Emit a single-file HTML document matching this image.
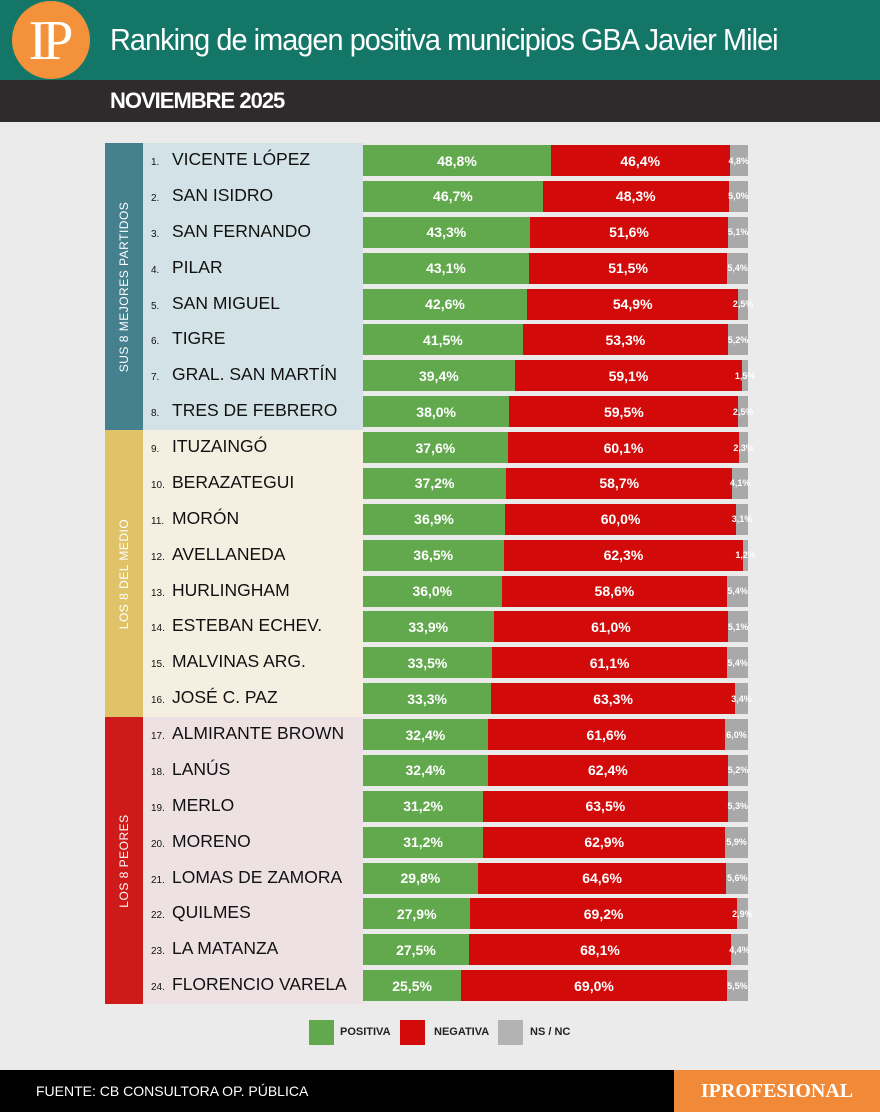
<!DOCTYPE html><html><head><meta charset="utf-8"><style>
*{margin:0;padding:0;box-sizing:border-box}
body{width:880px;height:1112px;background:#ebebeb;font-family:"Liberation Sans",sans-serif;position:relative;overflow:hidden}
.hdr{position:absolute;left:0;top:0;width:880px;height:80px;background:#137667}
.logo{position:absolute;left:12px;top:1px;width:78px;height:78px;border-radius:50%;background:#f3923a;color:#fff;font-family:"Liberation Serif",serif;font-size:56px;line-height:80px;text-align:center;letter-spacing:-5px;text-indent:-5px}
.title{position:absolute;left:110px;top:22px;color:#fff;font-size:31px;letter-spacing:-1px;transform:scaleX(.93);transform-origin:left}
.sub{position:absolute;left:0;top:80px;width:880px;height:42px;background:#2f2b2c}
.sub span{position:absolute;left:110px;top:8px;color:#fff;font-weight:bold;font-size:22px;letter-spacing:-1px}
.side{position:absolute;left:105px;width:38px}
.side span{position:absolute;left:50%;top:50%;transform:translate(-50%,-50%) rotate(-90deg);color:#fff;font-size:12px;white-space:nowrap;letter-spacing:.5px}
.grp{position:absolute;left:143px;width:220px}
.row{position:absolute;left:143px;width:605px;height:36px}
.nm{position:absolute;left:8px;top:6px;font-size:17.5px;color:#111;white-space:nowrap}
.nm small{font-size:10px;display:inline-block;width:21px}
.bar{position:absolute;left:220px;top:2px;width:385px;height:31px;display:flex}
.bar div{height:100%;min-width:0;color:#fff;font-weight:bold;font-size:14px;display:flex;align-items:center;justify-content:center;white-space:nowrap}
.g{background:#62a94e}.r{background:#d20a0a}.n{background:#a9a9a9;font-size:9px!important;overflow:visible}
.leg{position:absolute;top:1020px;height:25px;width:25px}
.lt{position:absolute;top:1026px;font-size:11px;font-weight:bold;color:#222}
.foot{position:absolute;left:0;top:1070px;width:880px;height:42px;background:#000}
.foot span{position:absolute;left:36px;top:13px;color:#fff;font-size:14px}
.fo{position:absolute;left:674px;top:1070px;width:206px;height:42px;background:#f08a38;color:#fff;font-family:"Liberation Serif",serif;font-weight:bold;font-size:20px;text-align:center;line-height:42px}
</style></head><body>
<div class="hdr"><div class="logo">IP</div><div class="title">Ranking de imagen positiva municipios GBA Javier Milei</div></div>
<div class="sub"><span>NOVIEMBRE 2025</span></div>
<div class="side" style="top:143px;height:287px;background:#44808e"><span>SUS 8 MEJORES PARTIDOS</span></div>
<div class="side" style="top:430px;height:287px;background:#e0c368"><span>LOS 8 DEL MEDIO</span></div>
<div class="side" style="top:717px;height:287px;background:#cf1a1a"><span>LOS 8 PEORES</span></div>
<div class="grp" style="top:143px;height:287px;background:#d3e2e6"></div>
<div class="grp" style="top:430px;height:287px;background:#f4efe0"></div>
<div class="grp" style="top:717px;height:287px;background:#eee1e3"></div>
<div id="rows"></div>
<div class="leg" style="left:309px;background:#62a94e"></div><div class="lt" style="left:340px">POSITIVA</div>
<div class="leg" style="left:400px;background:#d20a0a"></div><div class="lt" style="left:434px">NEGATIVA</div>
<div class="leg" style="left:498px;background:#b3b3b3"></div><div class="lt" style="left:530px">NS / NC</div>
<div class="foot"><span>FUENTE: CB CONSULTORA OP. PÚBLICA</span></div>
<div class="fo">IPROFESIONAL</div>
<script>
var d=[["VICENTE LÓPEZ",48.8,46.4,4.8],["SAN ISIDRO",46.7,48.3,5.0],["SAN FERNANDO",43.3,51.6,5.1],["PILAR",43.1,51.5,5.4],["SAN MIGUEL",42.6,54.9,2.5],["TIGRE",41.5,53.3,5.2],["GRAL. SAN MARTÍN",39.4,59.1,1.5],["TRES DE FEBRERO",38.0,59.5,2.5],["ITUZAINGÓ",37.6,60.1,2.3],["BERAZATEGUI",37.2,58.7,4.1],["MORÓN",36.9,60.0,3.1],["AVELLANEDA",36.5,62.3,1.2],["HURLINGHAM",36.0,58.6,5.4],["ESTEBAN ECHEV.",33.9,61.0,5.1],["MALVINAS ARG.",33.5,61.1,5.4],["JOSÉ C. PAZ",33.3,63.3,3.4],["ALMIRANTE BROWN",32.4,61.6,6.0],["LANÚS",32.4,62.4,5.2],["MERLO",31.2,63.5,5.3],["MORENO",31.2,62.9,5.9],["LOMAS DE ZAMORA",29.8,64.6,5.6],["QUILMES",27.9,69.2,2.9],["LA MATANZA",27.5,68.1,4.4],["FLORENCIO VARELA",25.5,69.0,5.5]];
var f=function(x){return x.toFixed(1).replace('.',',')+'%'};var h='';
d.forEach(function(r,i){var t=143+i*35.875;h+='<div class="row" style="top:'+t+'px"><div class="nm"><small>'+(i+1)+'.</small>'+r[0]+'</div><div class="bar"><div class="g" style="width:'+r[1]+'%">'+f(r[1])+'</div><div class="r" style="width:'+r[2]+'%">'+f(r[2])+'</div><div class="n" style="flex:1">'+f(r[3])+'</div></div></div>'});
document.getElementById('rows').innerHTML=h;
</script>
</body></html>
